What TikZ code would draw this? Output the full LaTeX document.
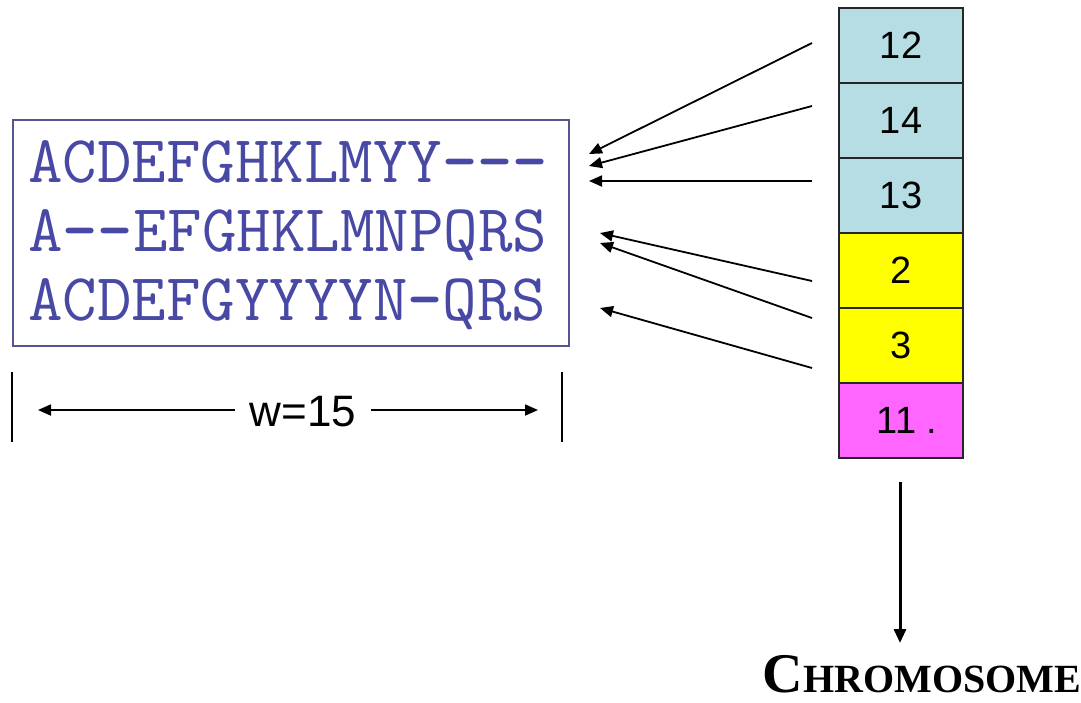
\documentclass[tikz,border=0pt]{standalone}
\usepackage{fontspec}
\setmainfont{Liberation Sans}
\newfontfamily\serf{Liberation Serif}
\usetikzlibrary{arrows.meta}
\definecolor{cblue}{RGB}{183,221,228}
\definecolor{cyel}{RGB}{255,255,0}
\definecolor{cmag}{RGB}{255,102,255}
\definecolor{seqc}{RGB}{72,72,165}
\definecolor{boxc}{RGB}{85,85,150}
\begin{document}
\begin{tikzpicture}[x=1pt,y=-1pt,
  cell/.style={draw=black!85,line width=2pt,minimum width=124pt,minimum height=75pt,anchor=north west,inner sep=0pt,font=\fontsize{38}{38}\selectfont},
  seq/.style={anchor=base west,inner sep=0pt,text=seqc,font=\ttfamily\fontsize{67}{67}\selectfont},
  arr/.style={line width=1.8pt,-{Triangle[length=13pt,width=11pt]}},
  bar/.style={line width=2pt}]
\useasboundingbox (0,0) rectangle (1081,702);
% alignment box
\node[draw=boxc,line width=1.8pt,minimum width=556pt,minimum height=226pt,anchor=north west,inner sep=0pt] (box) at (12,119) {};
\node[seq] (r1) at (28,182) {ACDEFGHKLMYY\textbf{---}};
\node[seq] (r2) at (28,251) {A\textbf{--}EFGHKLMNPQRS};
\node[seq] (r3) at (28,320) {ACDEFGYYYYN\textbf{-}QRS};
% chromosome cells
\node[cell,fill=cblue] (c12) at (838,7) {12};
\node[cell,fill=cblue] (c14) at (838,82) {14};
\node[cell,fill=cblue] (c13) at (838,157) {13};
\node[cell,fill=cyel] (c2) at (838,232) {2};
\node[cell,fill=cyel] (c3) at (838,307) {3};
\node[cell,fill=cmag] (c11) at (838,382) {\hspace*{12pt}11 .};
% arrows from cells to rows
\coordinate (s1) at (812,43);  \coordinate (t1) at (589,154);
\coordinate (s2) at (812,106); \coordinate (t2) at (589,166);
\coordinate (s3) at (812,181); \coordinate (t3) at (589,181);
\coordinate (s4) at (812,281); \coordinate (t4) at (600,233);
\coordinate (s5) at (812,318); \coordinate (t5) at (600,243);
\coordinate (s6) at (812,368); \coordinate (t6) at (600,308);
\draw[arr] (s1) -- (t1);
\draw[arr] (s2) -- (t2);
\draw[arr] (s3) -- (t3);
\draw[arr] (s4) -- (t4);
\draw[arr] (s5) -- (t5);
\draw[arr] (s6) -- (t6);
% width dimension
\coordinate (b1a) at (12,372); \coordinate (b1b) at (12,442);
\coordinate (b2a) at (562,372); \coordinate (b2b) at (562,442);
\draw[bar] (b1a) -- (b1b);
\draw[bar] (b2a) -- (b2b);
\node[inner xsep=15pt,inner ysep=0pt,font=\fontsize{44}{44}\selectfont] (wl) at (303,412) {w=15};
\coordinate (wL) at (38,410); \coordinate (wR) at (538,410);
\draw[arr] (wl.west |- wL) -- (wL);
\draw[arr] (wl.east |- wR) -- (wR);
% down arrow and label
\coordinate (d1) at (900,482); \coordinate (d2) at (900,643);
\draw[line width=3pt,-{Triangle[length=14pt,width=12pt]}] (d1) -- (d2);
\node[anchor=base,inner sep=0pt,font=\serf\bfseries] (chrom) at (922,692)
  {\fontsize{56}{56}\selectfont C\fontsize{40}{40}\selectfont HROMOSOME};
\end{tikzpicture}
\end{document}
